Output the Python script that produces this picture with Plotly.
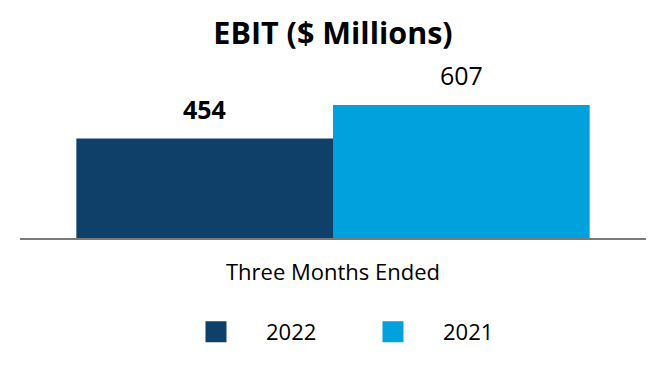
import plotly.graph_objects as go

categories = ["Three Months Ended"]
series_names = ["2022", "2021"]
values_2022 = [454]
values_2021 = [607]
colors = ["#0f4069", "#00a1dc"]
label_bold = [True, False]

bargap = 0.18
FONT = "Open Sans"

fig = go.Figure()
series_values = [values_2022, values_2021]
for name, vals, col in zip(series_names, series_values, colors):
    fig.add_trace(go.Bar(x=categories, y=vals, name=name, marker=dict(color=col, line=dict(width=0)),
                         showlegend=False))
# legend entries (larger square symbols)
for name, col in zip(series_names, colors):
    fig.add_trace(go.Scatter(x=[None], y=[None], mode="markers", name=name,
                             marker=dict(symbol="square", size=16, color=col,
                                         line=dict(color=col, width=5))))

# value labels above bars
half = (1 - bargap) / 2
for i, (vals, bold) in enumerate(zip(series_values, label_bold)):
    xpos = -half / 2 + i * half
    for v in vals:
        txt = f"<b>{v}</b>" if bold else f"{v}"
        fig.add_annotation(x=xpos, y=v, text=txt, showarrow=False, yanchor="bottom",
                           yshift=11, font=dict(family=FONT, size=25, color="#000000"))

fig.update_layout(
    width=666, height=380,
    margin=dict(l=20, r=20, t=60, b=142),
    paper_bgcolor="white", plot_bgcolor="white",
    barmode="group", bargap=bargap, bargroupgap=0,
    title=dict(text="<b>EBIT ($ Millions)</b>", x=0.5, xanchor="center", xref="container",
               y=1 - 33 / 380, yref="container", yanchor="middle",
               font=dict(family=FONT, size=30.5, color="#000000")),
    font=dict(family=FONT, color="#000000"),
    legend=dict(orientation="h", x=0.515, xanchor="center", xref="container",
                y=1 - 332 / 380, yref="container", yanchor="middle",
                font=dict(family=FONT, size=22, color="#000000"),
                itemwidth=90, entrywidth=72, itemsizing="trace"),
    showlegend=True,
)
fig.update_xaxes(range=[-0.5, 0.5], showline=True, linecolor="#7a7a7a", linewidth=2,
                 ticks="outside", ticklen=14, tickcolor="rgba(0,0,0,0)",
                 tickfont=dict(family=FONT, size=22, color="#000000"), showgrid=False, zeroline=False)
fig.update_yaxes(range=[0, 813], visible=False, showgrid=False, zeroline=False)

fig.write_html("out.html", config={"displayModeBar": False},
               post_script="document.body.style.margin='0';document.body.style.overflow='hidden';")
